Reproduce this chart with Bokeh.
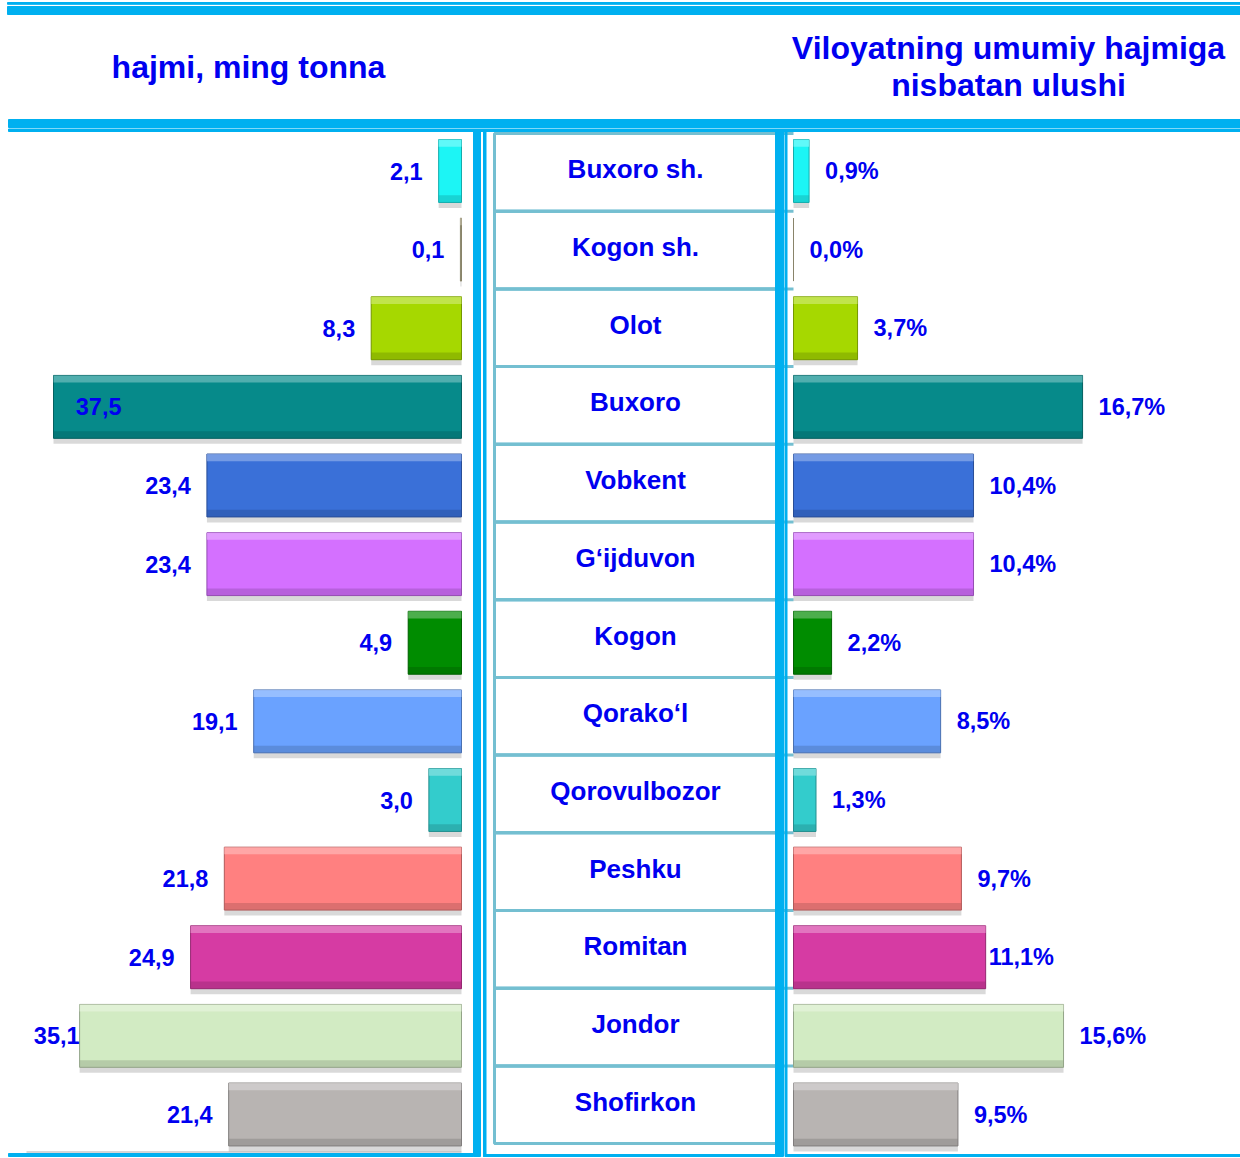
from bokeh.plotting import figure
from bokeh.models import Range1d, ColumnDataSource
from bokeh.core.properties import value
from bokeh.embed import file_html
from bokeh.resources import INLINE

# ---------------- data ----------------
categories = ["Buxoro sh.", "Kogon sh.", "Olot", "Buxoro", "Vobkent", "G\u2018ijduvon",
              "Kogon", "Qorako\u2018l", "Qorovulbozor", "Peshku", "Romitan", "Jondor", "Shofirkon"]
volume = [2.1, 0.1, 8.3, 37.5, 23.4, 23.4, 4.9, 19.1, 3.0, 21.8, 24.9, 35.1, 21.4]
share = [0.9, 0.0, 3.7, 16.7, 10.4, 10.4, 2.2, 8.5, 1.3, 9.7, 11.1, 15.6, 9.5]
left_title = "hajmi, ming tonna"
right_title = "Viloyatning umumiy hajmiga\nnisbatan ulushi"

# ---------------- styles ----------------
bar_colors = ["#1CF5F5", "#C4BD97", "#A6D800", "#068A8A", "#3A70D8", "#D470FF", "#008C00",
              "#6AA2FF", "#33CCCC", "#FF8080", "#D63BA3", "#D2EBC3", "#B8B4B2"]
BLUE_LINE = "#00B0F0"
TABLE = "#74BFD1"
TXT = "#0000F0"
FONT = value("Liberation Sans")

# label nudges (pixels) for labels placed differently in the original
left_nudge = {"Buxoro": 84, "Jondor": 16}
right_nudge = {"Romitan": -13}


def mix(hexc, other, t):
    a = [int(hexc[i:i + 2], 16) for i in (1, 3, 5)]
    b = [int(other[i:i + 2], 16) for i in (1, 3, 5)]
    c = [round(a[k] * (1 - t) + b[k] * t) for k in range(3)]
    return "#%02x%02x%02x" % tuple(c)


n = len(categories)
idx = list(range(n))
W, H = 1240, 1158

p = figure(width=W, height=H, output_backend="svg", toolbar_location=None,
           x_range=Range1d(0, W), y_range=Range1d(H, 0),
           min_border=0, min_border_left=0, min_border_right=0,
           min_border_top=0, min_border_bottom=0)
p.axis.visible = False
p.grid.visible = False
p.outline_line_color = None
p.background_fill_color = "white"
p.border_fill_color = "white"

# scales for the three panels
p.extra_x_ranges = {
    "L": Range1d(start=461 / 10.88, end=(461 - W) / 10.88),
    "R": Range1d(start=-793 / 17.31, end=(W - 793) / 17.31),
}
p.extra_y_ranges = {
    "B": Range1d(start=(H - 170.5) / 78.625, end=-170.5 / 78.625),
    "T": Range1d(start=-0.5 + (H - 133) / 77.7, end=-0.5 - 133 / 77.7),
}

# ---------------- decorations (frame) ----------------
p.quad(left=7, right=W, top=2, bottom=3.8, color=BLUE_LINE)
p.quad(left=7, right=W, top=6, bottom=14, color=BLUE_LINE)
p.quad(left=8, right=W, top=119, bottom=127, color=BLUE_LINE)
p.quad(left=8, right=W, top=128.5, bottom=131, color=BLUE_LINE)

# ---------------- table ----------------
tsrc = ColumnDataSource(dict(y=idx, cat=categories))
p.rect(x=635, y="y", width=282, height=1, y_range_name="T",
       fill_color=None, line_color=TABLE, line_width=3, source=tsrc, width_units="data")
p.segment(x0=494, x1=793, y0="y", y1="y", y_range_name="T", line_color=TABLE,
          line_width=3, source=ColumnDataSource(dict(y=[i - 0.5 for i in idx[1:]])))
p.segment(x0=494, x1=793, y0=-0.5, y1=-0.5, y_range_name="T", line_color=TABLE, line_width=3)
p.segment(x0=494, x1=776, y0=n - 0.5, y1=n - 0.5, y_range_name="T", line_color=TABLE, line_width=3)
p.text(x=635, y="y", text="cat", source=tsrc, y_range_name="T", text_align="center",
       text_baseline="middle", text_font=FONT, text_font_style="bold", text_font_size="26px",
       text_color=TXT, y_offset=-3)

# vertical separators
p.quad(left=473, right=480, top=131, bottom=1156, color=BLUE_LINE)
p.quad(left=483, right=485.5, top=131, bottom=1156, color=BLUE_LINE)
p.quad(left=775, right=783, top=131, bottom=1156, color=BLUE_LINE)
p.quad(left=784.5, right=786.5, top=131, bottom=1156, color=BLUE_LINE)
# bottom lines
p.segment(x0=26, x1=461, y0=1151.5, y1=1151.5, line_color="#C8C8C8", line_width=1.5)
p.quad(left=8, right=473, top=1153, bottom=1156, color=BLUE_LINE)
p.quad(left=483, right=775, top=1154, bottom=1156, color=BLUE_LINE)
p.quad(left=785, right=W, top=1154, bottom=1156, color=BLUE_LINE)

# ---------------- bars ----------------
BH = 0.8
light = [mix(c, "#ffffff", 0.4) for c in bar_colors]
dark = [mix(c, "#000000", 0.3) for c in bar_colors]

for xr, vals in (("L", volume), ("R", share)):
    src = ColumnDataSource(dict(y=idx, v=vals, c=bar_colors, lc=light, dc=dark,
                                ys=[i + 0.07 for i in idx],
                                yt=[i - BH / 2 + 0.045 for i in idx],
                                yb=[i + BH / 2 - 0.045 for i in idx]))
    p.hbar(y="ys", left=0, right="v", height=BH, source=src, x_range_name=xr, y_range_name="B",
           fill_color="#000000", fill_alpha=0.15, line_color=None)
    p.hbar(y="y", left=0, right="v", height=BH, source=src, x_range_name=xr, y_range_name="B",
           fill_color="c", line_color="dc", line_width=1)
    p.hbar(y="yt", left=0, right="v", height=0.09, source=src, x_range_name=xr, y_range_name="B",
           fill_color="lc", fill_alpha=0.75, line_color=None)
    p.hbar(y="yb", left=0, right="v", height=0.09, source=src, x_range_name=xr, y_range_name="B",
           fill_color="dc", fill_alpha=0.45, line_color=None)

# ---------------- value labels ----------------
for i, (cat, v) in enumerate(zip(categories, volume)):
    off = -16 + left_nudge.get(cat, 0)
    p.text(x=[v], y=[i], text=[f"{v:.1f}".replace(".", ",")], x_range_name="L", y_range_name="B",
           text_align="right", text_baseline="middle", x_offset=off, text_font=FONT,
           text_font_style="bold", text_font_size="23.5px", text_color=TXT)
for i, (cat, v) in enumerate(zip(categories, share)):
    off = 16 + right_nudge.get(cat, 0)
    p.text(x=[v], y=[i], text=[f"{v:.1f}".replace(".", ",") + "%"], x_range_name="R",
           y_range_name="B", text_align="left", text_baseline="middle", x_offset=off,
           text_font=FONT, text_font_style="bold", text_font_size="23.5px", text_color=TXT)

# ---------------- headers ----------------
p.text(x=248, y=66, text=[left_title], text_align="center", text_baseline="middle",
       text_font=FONT, text_font_style="bold", text_font_size="32px", text_color=TXT)
p.text(x=1008, y=66, text=[right_title], text_align="center", text_baseline="middle",
       text_font=FONT, text_font_style="bold", text_font_size="32px", text_color=TXT,
       text_line_height=1.05)

open("out.html", "w").write(file_html(p, INLINE))
